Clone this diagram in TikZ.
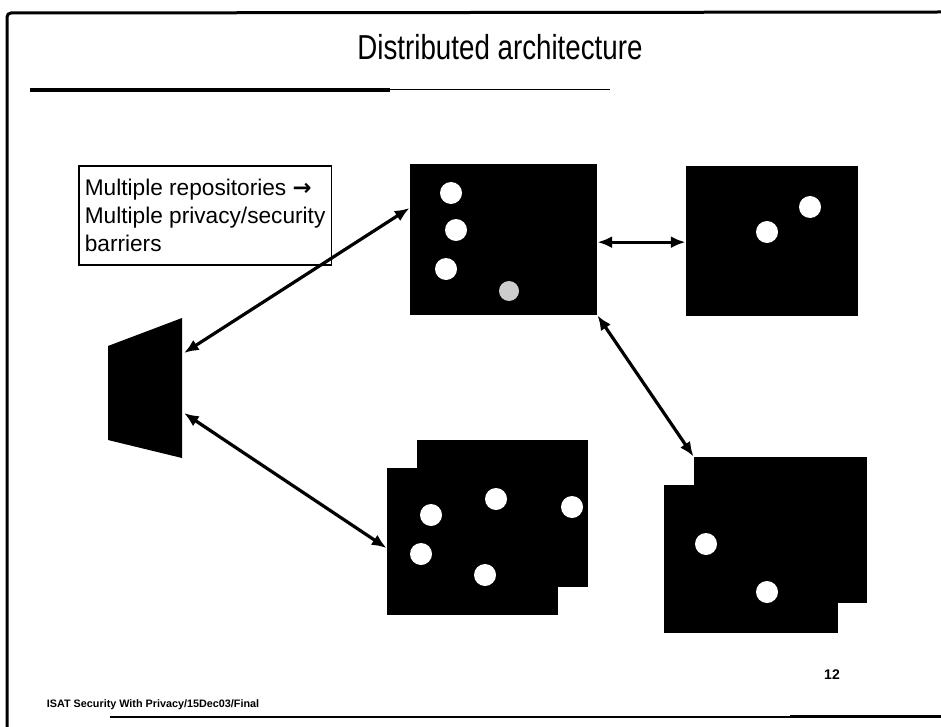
\documentclass[tikz,border=0pt]{standalone}
\usepackage{fontspec}
\usepackage{graphicx}
\setmainfont{Liberation Sans}
\newfontfamily\arrowfont{DejaVu Sans}
\usetikzlibrary{arrows.meta}

\tikzset{every picture/.style={line width=0.75pt}}
\tikzset{
  repo/.style={fill=black, inner sep=0pt},
  dot/.style={fill=white},
  link/.style={line width=2.4pt, {Latex[length=11pt,width=9pt]}-{Latex[length=11pt,width=9pt]}},
}

\begin{document}
\begin{tikzpicture}[x=0.75pt,y=0.75pt,yscale=-1]
\useasboundingbox (0,0) rectangle (941,727);

%Frame
\draw [line width=2.25pt, rounded corners=3pt] (7,727) -- (7,13) -- (941,12) ;
\draw [line width=1.2pt] (110,717) -- (941,717) ;
\draw [line width=2.25pt] (790,716) -- (941,716) ;

% Title
\node (title) at (500,47) [font=\fontsize{26}{30}\selectfont] {\scalebox{0.8}[1]{Distributed architecture}};
\draw [line width=3pt] (30,90) -- (390,90) ;
\draw [line width=1pt] (390,89.5) -- (610,89.5) ;

% Text box
\node (note) at (78,165) [draw, line width=1.2pt, anchor=north west, align=left, inner xsep=4.5pt, inner ysep=10pt, font=\fontsize{17}{21}\selectfont] {Multiple repositories {\arrowfont\bfseries →}\\Multiple privacy/security\\barriers};

% Server (trapezoid)
\fill (108,346) -- (182,318) -- (182,458) -- (108,440) -- cycle ;
\coordinate (srvtop) at (184,353);
\coordinate (srvbot) at (184,413);

% Repositories
\node (repoA) at (503.5,239.5) [repo, minimum width=140.25pt, minimum height=113.25pt] {};
\node (repoB) at (772,241) [repo, minimum width=129pt, minimum height=112.5pt] {};
\node (blback) at (502.5,513.5) [repo, minimum width=128.25pt, minimum height=110.25pt] {};
\node (blfront) at (472.5,541.5) [repo, minimum width=128.25pt, minimum height=110.25pt] {};
\node (brback) at (780.5,530) [repo, minimum width=129.75pt, minimum height=109.5pt] {};
\node (brfront) at (751,559) [repo, minimum width=130.5pt, minimum height=111pt] {};

% Records
\fill [dot] (451,193) circle (11) ;
\fill [dot] (456,230) circle (11) ;
\fill [dot] (446,269) circle (11) ;
\fill [white!80!black] (509,291) circle (10) ;
\fill [dot] (767,232) circle (11) ;
\fill [dot] (810,207) circle (11) ;
\fill [dot] (431,515) circle (11) ;
\fill [dot] (496,499) circle (11) ;
\fill [dot] (572,507) circle (11) ;
\fill [dot] (421,554) circle (11) ;
\fill [dot] (485,575) circle (11) ;
\fill [dot] (706,544) circle (11) ;
\fill [dot] (767,592) circle (11) ;

% Links
\draw [link] (srvtop) -- ([yshift=-23.6pt]repoA.west) ;
\draw [link] (srvbot) -- ([yshift=4.9pt]blfront.west) ;
\draw [link] ([yshift=2pt]repoA.east) -- ([yshift=2pt]repoA.east -| repoB.west) ;
\draw [link] (repoA.south east) -- (brback.north west) ;

% Footer
\node (footer) at (42,705) [anchor=west, font=\bfseries\fontsize{8.1}{10}\selectfont] {ISAT Security With Privacy/15Dec03/Final};
\node (pageno) at (832,675) [font=\bfseries\fontsize{10.5}{12}\selectfont] {12};

\end{tikzpicture}
\end{document}
